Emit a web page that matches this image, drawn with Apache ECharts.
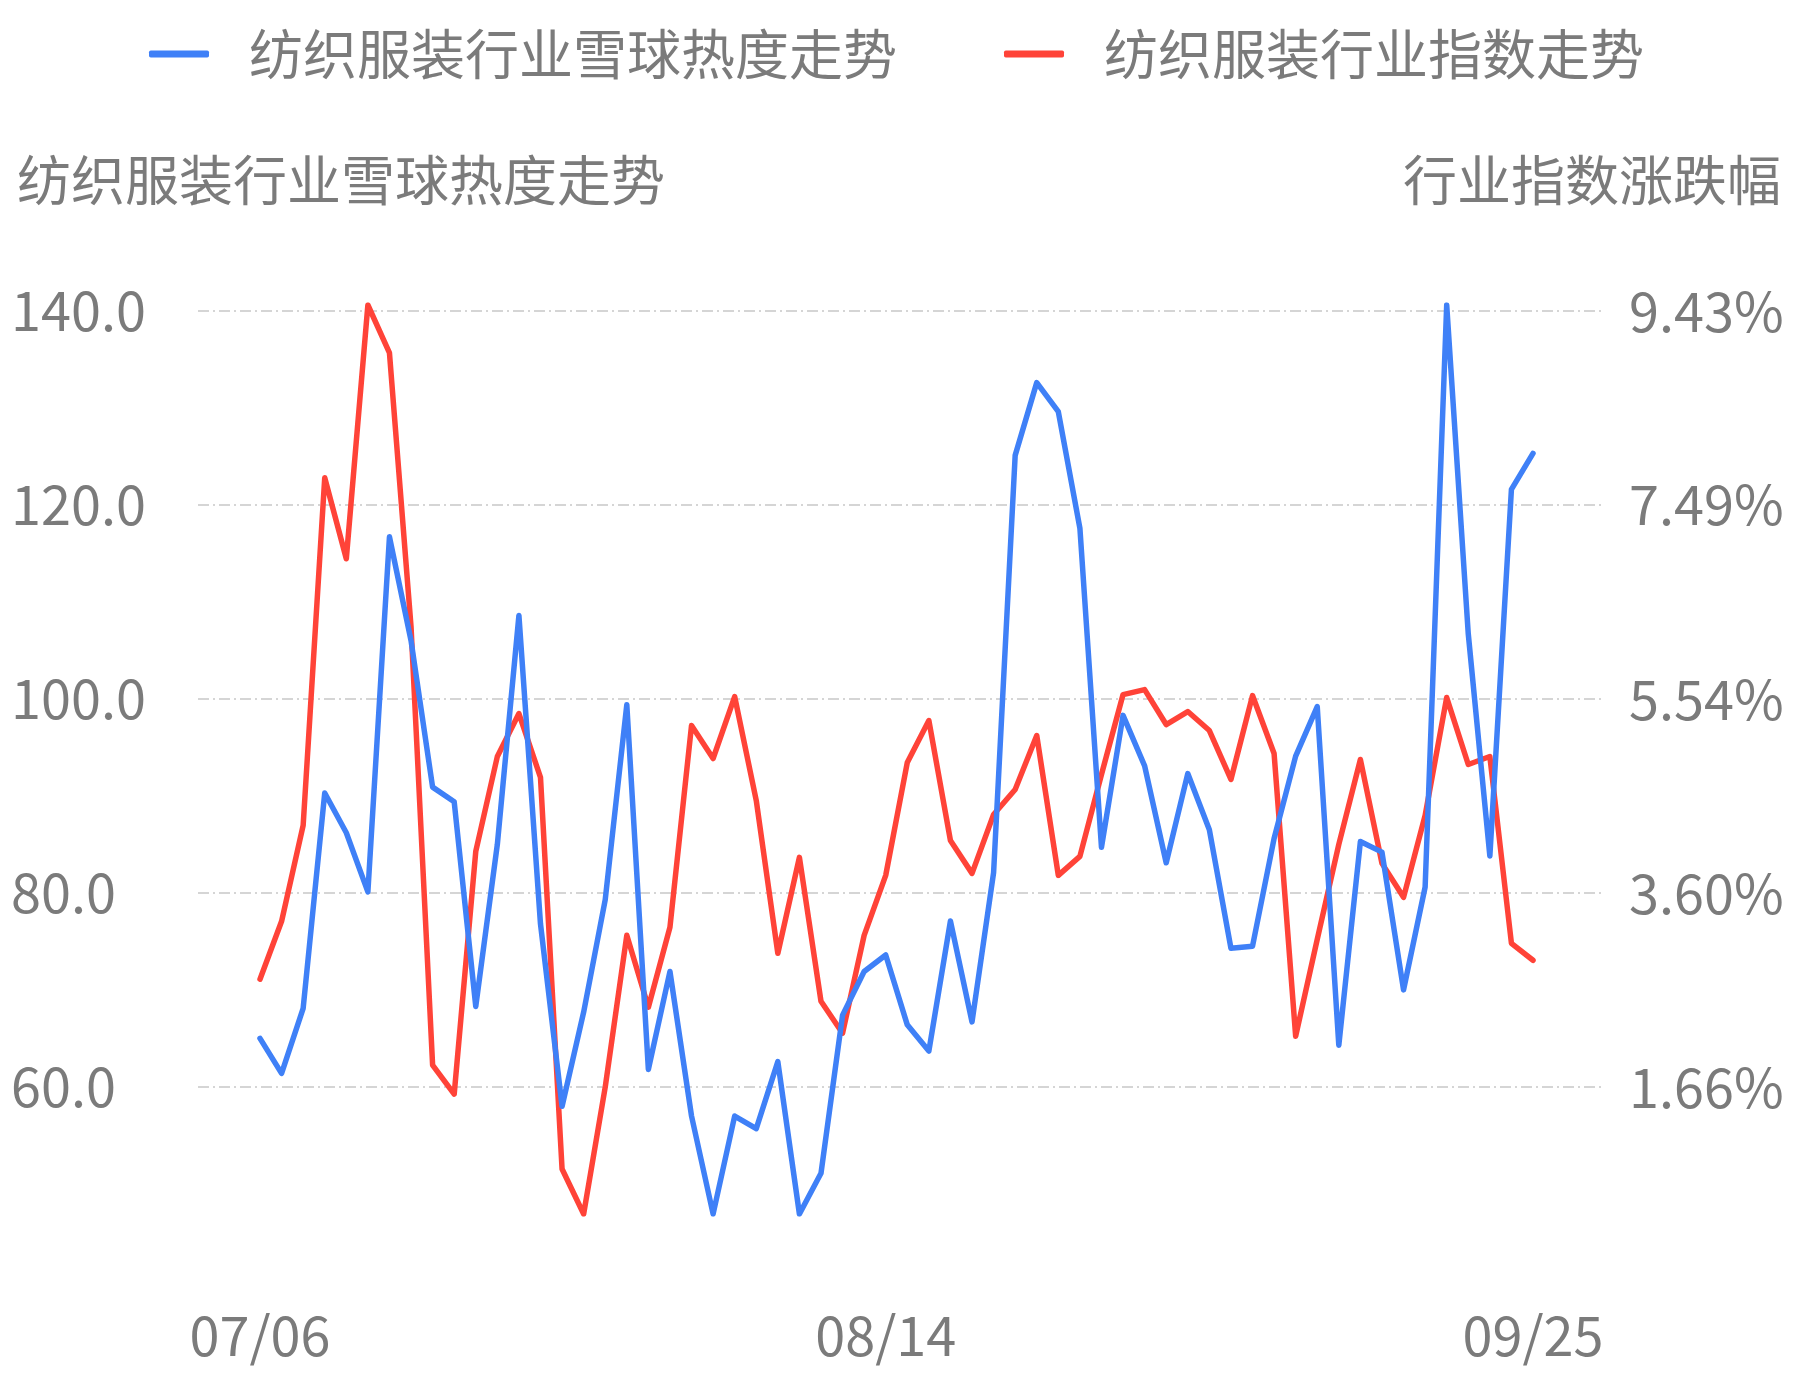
<!DOCTYPE html>
<html>
<head>
<meta charset="utf-8">
<script src="https://cdn.jsdelivr.net/npm/echarts@6/dist/echarts.min.js"></script>
<style>
html,body{margin:0;padding:0;background:#fff;}
#chart{width:1793px;height:1380px;}
</style>
</head>
<body>
<div id="chart"></div>
<script>
// 日期(交易日)
const dates = [
    "07/06","07/07","07/08","07/09","07/10",
    "07/13","07/14","07/15","07/16","07/17",
    "07/20","07/21","07/22","07/23","07/24",
    "07/27","07/28","07/29","07/30","07/31",
    "08/03","08/04","08/05","08/06","08/07",
    "08/10","08/11","08/12","08/13","08/14",
    "08/17","08/18","08/19","08/20","08/21",
    "08/24","08/25","08/26","08/27","08/28",
    "08/31","09/01","09/02","09/03","09/04",
    "09/07","09/08","09/09","09/10","09/11",
    "09/14","09/15","09/16","09/17","09/18",
    "09/21","09/22","09/23","09/24","09/25"
];
// 雪球热度
const heat = [
    65.0,61.4,68.1,90.3,86.2,80.1,116.7,106.0,90.9,89.4,
    68.3,85.0,108.6,76.8,58.0,67.7,79.3,99.4,61.8,71.9,
    57.0,46.9,57.0,55.7,62.6,46.9,51.1,67.4,71.9,73.6,
    66.4,63.7,77.1,66.7,82.1,125.1,132.6,129.6,117.6,84.7,
    98.3,93.1,83.1,92.3,86.5,74.3,74.5,85.6,94.1,99.2,
    64.3,85.3,84.2,70.0,80.6,140.6,106.7,83.8,121.6,125.3
];
// 行业指数涨跌幅(%)
const indexPct = [
    2.74,3.32,4.28,7.76,6.95,9.49,9.01,6.27,1.88,1.59,
    4.02,4.97,5.40,4.76,0.84,0.39,1.66,3.18,2.46,3.26,
    5.28,4.95,5.57,4.53,3.00,3.96,2.52,2.20,3.18,3.78,
    4.91,5.33,4.13,3.80,4.39,4.64,5.18,3.78,3.97,4.79,
    5.59,5.64,5.29,5.42,5.23,4.74,5.58,5.00,2.17,3.14,
    4.09,4.94,3.90,3.56,4.38,5.56,4.89,4.97,3.10,2.93
];
const rightTicks = [1.66, 3.60, 5.54, 7.49, 9.43];
const xLabelIdx = [0, 29, 59];

const heatMin = Math.min(...heat), heatMax = Math.max(...heat);
const pctMin = Math.min(...indexPct), pctMax = Math.max(...indexPct);

const gray = "#7b7b7b";
const font = "'Noto Sans CJK SC', 'Noto Sans', sans-serif";

let chart = echarts.init(document.getElementById("chart"));
let option = {
    animation: false,
    textStyle: {fontFamily: font},
    title: [
        {text: "纺织服装行业雪球热度走势", left: 12, top: 148,
            textStyle: {color: gray, fontSize: 54, fontWeight: "normal", fontFamily: font}},
        {text: "行业指数涨跌幅", right: 7, top: 148,
            textStyle: {color: gray, fontSize: 54, fontWeight: "normal", fontFamily: font}}
    ],
    legend: {
        left: 144,
        top: 22,
        icon: "roundRect",
        itemWidth: 60,
        itemHeight: 7,
        itemGap: 107,
        textStyle: {color: gray, fontSize: 54, fontFamily: font, padding: [0, 0, 0, 35]},
        data: ["纺织服装行业雪球热度走势", "纺织服装行业指数走势"]
    },
    grid: [
        //网格线和刻度
        {left: 198, right: 191, top: 305, bottom: 166},
        //折线区域
        {left: 260, right: 260, top: 305, bottom: 166}
    ],
    xAxis: [
        {gridIndex: 0, type: "value", min: 0, max: 1, show: false},
        {
            gridIndex: 1,
            type: "category",
            boundaryGap: false,
            data: dates,
            axisLine: {show: false},
            axisTick: {show: false},
            axisLabel: {
                interval: (i) => xLabelIdx.includes(i),
                color: gray,
                fontSize: 54,
                fontFamily: font,
                margin: 94
            }
        }
    ],
    yAxis: [
        {
            gridIndex: 0,
            type: "value",
            position: "left",
            min: heatMin,
            max: heatMax,
            axisLine: {show: false},
            axisTick: {show: false},
            axisLabel: {
                showMinLabel: false,
                showMaxLabel: false,
                align: "left",
                margin: 187,
                color: gray,
                fontSize: 54,
                fontFamily: font,
                formatter: v => v.toFixed(1)
            },
            splitLine: {
                showMinLine: false,
                showMaxLine: false,
                lineStyle: {color: "#c8c8c8", width: 1.5, type: [11, 4, 2, 4]}
            }
        },
        {
            gridIndex: 0,
            type: "value",
            position: "right",
            min: pctMin,
            max: pctMax,
            axisLine: {show: false},
            axisTick: {show: false},
            splitLine: {show: false},
            axisLabel: {
                customValues: rightTicks,
                align: "left",
                margin: 27,
                color: gray,
                fontSize: 54,
                fontFamily: font,
                formatter: v => v.toFixed(2) + "%"
            }
        },
        {gridIndex: 1, type: "value", min: heatMin, max: heatMax, show: false, splitLine: {show: false}},
        {gridIndex: 1, type: "value", min: pctMin, max: pctMax, show: false, splitLine: {show: false}}
    ],
    series: [
        {
            name: "纺织服装行业雪球热度走势",
            type: "line",
            xAxisIndex: 1,
            yAxisIndex: 2,
            data: heat,
            symbol: "none",
            z: 3,
            itemStyle: {color: "#3f80f7"},
            lineStyle: {color: "#3f80f7", width: 5.5, join: "round", cap: "round"}
        },
        {
            name: "纺织服装行业指数走势",
            type: "line",
            xAxisIndex: 1,
            yAxisIndex: 3,
            data: indexPct,
            symbol: "none",
            z: 2,
            itemStyle: {color: "#ff4338"},
            lineStyle: {color: "#ff4338", width: 5.5, join: "round", cap: "round"}
        }
    ]
};
chart.setOption(option);
</script>
</body>
</html>
